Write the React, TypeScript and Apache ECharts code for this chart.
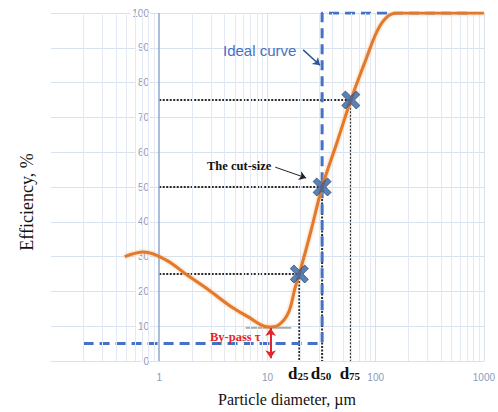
import React, { useEffect, useRef } from "react";
import * as echarts from "echarts";

const curveX = [0.48, 0.72, 1.16, 1.81, 2.87, 4.67, 6.7, 8.8, 10.2, 12.6, 15.6, 18, 19.7, 25.3, 32, 43.6, 59, 81, 104, 129, 160, 1000];
const curveY = [30, 31.3, 29, 24.7, 20.4, 15.5, 12.6, 10.3, 9.8, 10.3, 13.8, 21, 25, 37.5, 50, 62.5, 75, 86.5, 95, 99, 100, 100];

const idealX = [0.2, 32, 32, 700];
const idealY = [5, 5, 100, 100];

const cutX = [19.7, 32, 59];
const cutY = [25, 50, 75];
const cutSubs = ["25", "50", "75"];

const majorGridX = [10, 100, 1000];
const minorGridX = [0.2, 0.3, 0.4, 0.5, 0.6, 0.7, 0.8, 0.9, 2, 3, 4, 5, 6, 7, 8, 9, 20, 30, 40, 50, 60, 70, 80, 90, 200, 300, 400, 500, 600, 700, 800, 900];

const bypassX = 10.7;
const bypassTop = 9.5;
const bypassBottom = 0.8;
const minLineX = [6.3, 16.6];

const idealArrow = [[21.4, 89.4], [30.6, 85]];
const cutArrow = [[11.8, 55.7], [22.8, 52.6]];

const AXIS_COLOR = "#8a9cbc";
const GRID_COLOR = "#d8e1ee";

export default function App() {
  const ref = useRef<HTMLDivElement>(null);
  useEffect(() => {
    if (!ref.current) return;
    const chart = echarts.init(ref.current, undefined, { renderer: "svg" });
    const curveData = curveX.map((x, i) => [x, curveY[i]]);
    const idealData = idealX.map((x, i) => [x, idealY[i]]);
    const refSeries = cutX.map((x, i) => ({
      type: "line",
      data: [[1, cutY[i]], [x, cutY[i]], [x, 0]],
      showSymbol: false,
      silent: true,
      lineStyle: { color: "#2a2a2a", width: 2, type: [2, 1.5] },
      z: 3,
    }));
    const serif = "'Liberation Serif', 'Times New Roman', serif";
    chart.setOption({
      animation: false,
      grid: { left: 51, right: 11, top: 13, bottom: 51 },
      xAxis: {
        type: "log",
        logBase: 10,
        min: 0.1,
        max: 1000,
        axisLine: { show: true, lineStyle: { color: GRID_COLOR, width: 1 } },
        axisTick: { show: false },
        splitLine: { show: false },
        axisLabel: {
          color: AXIS_COLOR,
          fontSize: 10,
          fontFamily: "'Liberation Sans', sans-serif",
          margin: 11,
          formatter: (v: number) => (v < 1 ? "" : String(Math.round(v))),
        },
      },
      yAxis: {
        type: "value",
        min: 0,
        max: 100,
        interval: 10,
        axisLine: { show: false },
        axisTick: { show: false },
        splitLine: { show: true, lineStyle: { color: GRID_COLOR, width: 1 } },
        axisLabel: {
          color: AXIS_COLOR,
          fontSize: 10,
          fontFamily: "'Liberation Sans', sans-serif",
          margin: -99,
          align: "right",
          backgroundColor: "#ffffff",
          padding: [0, 1, 0, 2],
        },
        z: 3,
      },
      series: [
        {
          type: "line",
          data: [],
          silent: true,
          markLine: {
            silent: true,
            symbol: "none",
            label: { show: false },
            lineStyle: { color: "#e4eaf4", width: 1, type: "solid" },
            data: minorGridX.map((v) => ({ xAxis: v })),
          },
          z: 1,
        },
        {
          type: "line",
          data: [],
          silent: true,
          markLine: {
            silent: true,
            symbol: "none",
            label: { show: false },
            lineStyle: { color: GRID_COLOR, width: 1, type: "solid" },
            data: majorGridX.map((v) => ({ xAxis: v })),
          },
          z: 1,
        },
        {
          type: "line",
          data: [],
          silent: true,
          markLine: {
            silent: true,
            symbol: "none",
            label: { show: false },
            lineStyle: { color: "#8fa7cf", width: 1.5, type: "solid" },
            data: [{ xAxis: 1 }],
          },
          z: 2,
        },
        ...refSeries,
        {
          type: "line",
          data: minLineX.map((x) => [x, bypassTop]),
          showSymbol: false,
          silent: true,
          lineStyle: { color: "#6b6b6b", width: 1 },
          z: 3,
        },
        {
          name: "Ideal curve",
          type: "line",
          data: idealData,
          showSymbol: false,
          silent: true,
          lineStyle: { color: "#4472C4", width: 3, type: [10, 6] },
          z: 4,
        },
        {
          name: "Efficiency",
          type: "line",
          data: curveData,
          smooth: 0.35,
          showSymbol: false,
          silent: true,
          lineStyle: {
            color: "#E3792C",
            width: 3,
            shadowColor: "rgba(240,160,90,0.7)",
            shadowBlur: 3,
          },
          z: 5,
        },
        {
          type: "scatter",
          data: cutX.map((x, i) => [x, cutY[i]]),
          symbol:
            "path://M4,0 L10,6 L16,0 L20,4 L14,10 L20,16 L16,20 L10,14 L4,20 L0,16 L6,10 L0,4 Z",
          symbolSize: 18,
          itemStyle: { color: "#35629f", borderColor: "#274b80", borderWidth: 1 },
          silent: true,
          z: 6,
        },
        {
          type: "lines",
          coordinateSystem: "cartesian2d",
          silent: true,
          symbol: ["none", "arrow"],
          symbolSize: 7,
          lineStyle: { color: "#2f5597", width: 1.5, opacity: 1 },
          data: [{ coords: idealArrow }],
          z: 7,
        },
        {
          type: "lines",
          coordinateSystem: "cartesian2d",
          silent: true,
          symbol: ["none", "arrow"],
          symbolSize: 7,
          lineStyle: { color: "#222", width: 1, opacity: 1 },
          data: [{ coords: cutArrow }],
          z: 7,
        },
        {
          type: "lines",
          coordinateSystem: "cartesian2d",
          silent: true,
          symbol: ["arrow", "arrow"],
          symbolSize: 8,
          lineStyle: { color: "#e3262b", width: 2, opacity: 1 },
          data: [{ coords: [[bypassX, bypassTop], [bypassX, bypassBottom]] }],
          z: 7,
        },
      ],
    });

    const dLabels = cutX.map((x, i) => {
      const p = chart.convertToPixel({ gridIndex: 0 }, [x, 0]) as number[];
      return {
        type: "text",
        x: p[0] - 1,
        y: p[1] + 12,
        style: {
          text: `{d|d}{s|${cutSubs[i]}}`,
          align: "center",
          verticalAlign: "middle",
          rich: {
            d: { fontFamily: serif, fontWeight: "bold", fontSize: 17, fill: "#111" },
            s: { fontFamily: serif, fontWeight: "bold", fontSize: 11, fill: "#111", padding: [6, 0, 0, 0] },
          },
        },
        z: 10,
      };
    });

    chart.setOption({
      graphic: [
        {
          type: "text",
          left: 223,
          top: 43,
          style: {
            text: "Ideal curve",
            fontFamily: "'Liberation Sans', Arial, sans-serif",
            fontSize: 15,
            fill: "#4472C4",
          },
          z: 10,
        },
        {
          type: "text",
          left: 207,
          top: 159,
          style: {
            text: "The cut-size",
            fontFamily: serif,
            fontWeight: "bold",
            fontSize: 12.5,
            fill: "#111",
          },
          z: 10,
        },
        {
          type: "text",
          left: 210,
          top: 330,
          style: {
            text: "By-pass τ",
            fontFamily: serif,
            fontWeight: "bold",
            fontSize: 12.5,
            fill: "#e3262b",
          },
          z: 10,
        },
        ...dLabels,
        {
          type: "text",
          x: 287,
          y: 399,
          style: {
            text: "Particle diameter, µm",
            fontFamily: serif,
            fontSize: 16,
            fill: "#111",
            align: "center",
            verticalAlign: "middle",
          },
          z: 10,
        },
        {
          type: "text",
          x: 27,
          y: 202,
          rotation: Math.PI / 2,
          style: {
            text: "Efficiency, %",
            fontFamily: serif,
            fontSize: 18,
            fill: "#111",
            align: "center",
            verticalAlign: "middle",
          },
          z: 10,
        },
      ],
    });
    return () => chart.dispose();
  }, []);
  return <div ref={ref} style={{ width: 498, height: 412, position: "absolute", left: 0, top: 0 }} />;
}
